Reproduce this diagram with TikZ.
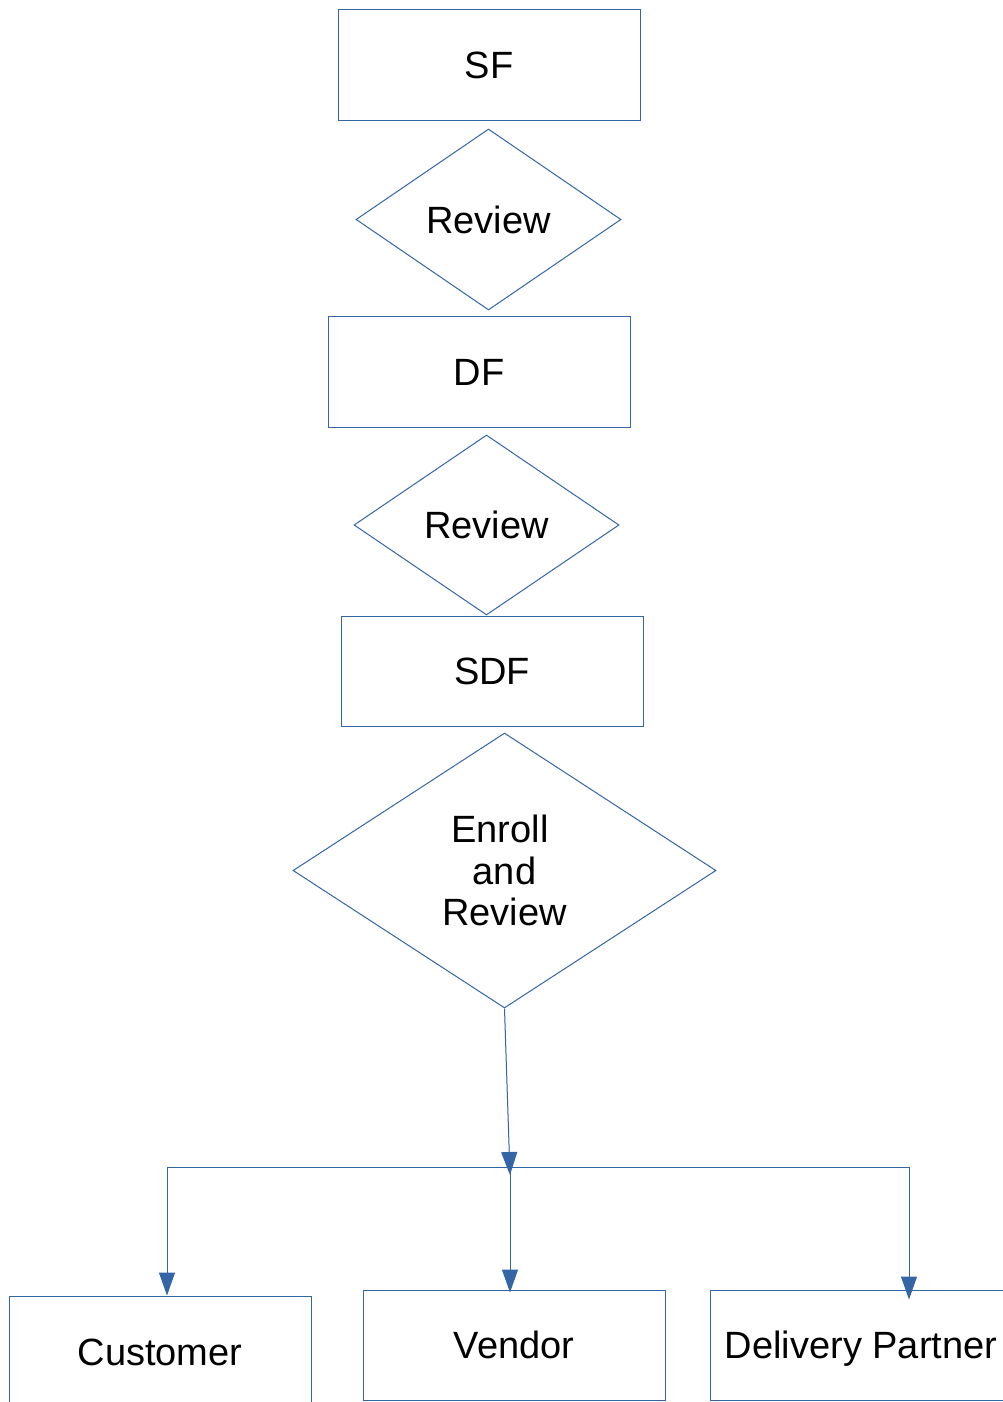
\documentclass[tikz,border=0pt]{standalone}
\usepackage{fontspec}
\setmainfont{Liberation Sans}
\usetikzlibrary{shapes.geometric,arrows.meta}
\definecolor{flowblue}{HTML}{3465A4}
\tikzset{
  flowbox/.style={draw=flowblue, line width=1pt, rectangle, minimum width=302pt,
    inner sep=0pt, text height=27pt, text depth=0pt,
    font=\fontsize{38pt}{41.5pt}\selectfont},
  decision/.style={draw=flowblue, line width=1pt, diamond, inner sep=0pt,
    font=\fontsize{38pt}{41.5pt}\selectfont, align=center},
  link/.style={draw=flowblue, line width=1pt},
  flowarrow/.style={link, -{Triangle[length=23pt,width=16pt]}, fill=flowblue}
}
\begin{document}
\begin{tikzpicture}[x=1pt, y=-1pt]
  \useasboundingbox (0,0) rectangle (1002,1402);

  % main column
  \node[flowbox, minimum height=111pt] (sf)  at (489,65.5) {SF};
  \node[decision, minimum width=265pt, minimum height=181pt] (rev1) at (488.5,219.5) {Review};
  \node[flowbox, minimum height=111pt] (df)  at (479,371.5) {DF};
  \node[decision, minimum width=265pt, minimum height=180pt] (rev2) at (486.5,525) {Review};
  \node[flowbox, minimum height=110pt] (sdf) at (492,671) {SDF};
  \node[decision, minimum width=423pt, minimum height=275pt] (enroll) at (504.5,870.5)
    {Enroll\hspace*{9pt}\\and\hspace*{13pt}\\Review};

  % targets
  \node[flowbox, minimum height=112pt] (cust)   at (160,1352) {Customer};
  \node[flowbox, minimum height=110pt] (vend)   at (514,1345) {Vendor};
  \node[flowbox, minimum height=110pt] (deliv)  at (861,1345) {Delivery Partner};

  % branching
  \coordinate (split) at (510,1167);
  \coordinate (splitL) at (167,1167);
  \coordinate (splitR) at (909,1167);
  \coordinate (splitTip) at (510,1175);

  \draw[flowarrow] (enroll.south) -- (splitTip);
  \draw[link] (splitL) -- (splitR);
  \draw[flowarrow] (splitL) -- (splitL |- cust.north);
  \draw[flowarrow, shorten >=-3pt] (split) -- (split |- vend.north);
  \draw[flowarrow, shorten >=-10pt] (splitR) -- (splitR |- deliv.north);
\end{tikzpicture}
\end{document}
